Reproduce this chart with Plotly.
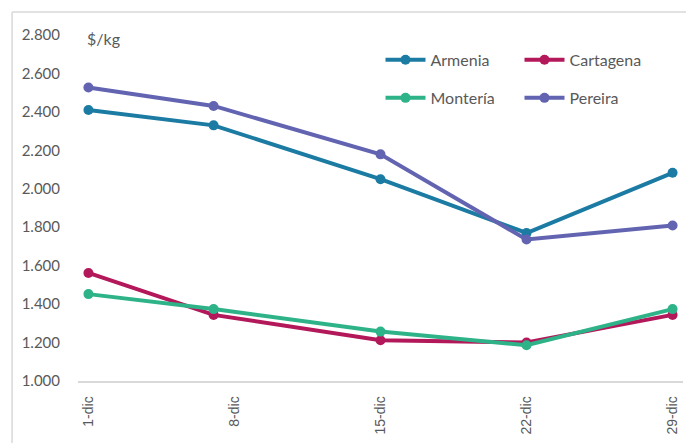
import plotly.graph_objects as go

dates = ["2023-12-01", "2023-12-07", "2023-12-15", "2023-12-22", "2023-12-29"]
tick_dates = ["2023-12-01", "2023-12-08", "2023-12-15", "2023-12-22", "2023-12-29"]
tick_labels = ["1-dic", "8-dic", "15-dic", "22-dic", "29-dic"]

armenia = [2410, 2330, 2050, 1770, 2083]
cartagena = [1562, 1344, 1212, 1200, 1344]
monteria = [1452, 1374, 1257, 1186, 1374]
pereira = [2527, 2431, 2179, 1736, 1809]

series = [
    ("Armenia", armenia, "#1b7ba3", "legend"),
    ("Cartagena", cartagena, "#b3185a", "legend"),
    ("Montería", monteria, "#2eb389", "legend2"),
    ("Pereira", pereira, "#6264b1", "legend2"),
]

GREY = "#595959"
FONT = "Lato"

fig = go.Figure()
for name, vals, color, leg in series:
    fig.add_trace(go.Scatter(
        x=dates, y=vals, name=name, mode="lines+markers",
        line=dict(color=color, width=4),
        marker=dict(color=color, size=10),
        legend=leg))

legend_style = dict(
    orientation="h", xanchor="left", yanchor="middle",
    entrywidth=84, font=dict(family=FONT, size=16, color=GREY),
    bgcolor="rgba(0,0,0,0)", itemwidth=40, tracegroupgap=0)

fig.update_layout(
    width=694, height=443,
    margin=dict(l=70, r=19, t=27, b=70, autoexpand=False),
    paper_bgcolor="white", plot_bgcolor="white",
    separators=",.",
    font=dict(family=FONT, color=GREY),
    legend=dict(x=0.5, y=0.928, **legend_style),
    legend2=dict(x=0.5, y=0.818, **legend_style),
    xaxis=dict(
        type="date", range=["2023-11-30 12:00", "2023-12-29 12:00"],
        tickvals=tick_dates, ticktext=tick_labels, tickangle=-90,
        showgrid=False, zeroline=False,
        showline=True, linecolor="#d9d9d9", linewidth=1.5,
        ticks="outside", ticklen=8, tickcolor="white",
        tickfont=dict(family="Liberation Sans", size=14, color=GREY)),
    yaxis=dict(
        range=[1000, 2800], dtick=200, tickformat=",d",
        showgrid=False, zeroline=False, showline=False,
        ticks="outside", ticklen=14, tickcolor="white",
        tickfont=dict(family=FONT, size=15, color=GREY)),
    annotations=[dict(
        text="$/kg", xref="paper", yref="paper", x=0.012, y=0.99,
        xanchor="left", yanchor="middle", showarrow=False,
        font=dict(family=FONT, size=16, color=GREY))],
    shapes=[
        dict(type="line", xref="paper", yref="paper",
             x0=-0.109, x1=1.05, y0=1.0665, y1=1.0665,
             line=dict(color="#d9d9d9", width=1.5)),
        dict(type="line", xref="paper", yref="paper",
             x0=-0.109, x1=-0.109, y0=1.0665, y1=-0.25,
             line=dict(color="#d9d9d9", width=1.5)),
    ],
)

fig.write_html("out.html")
